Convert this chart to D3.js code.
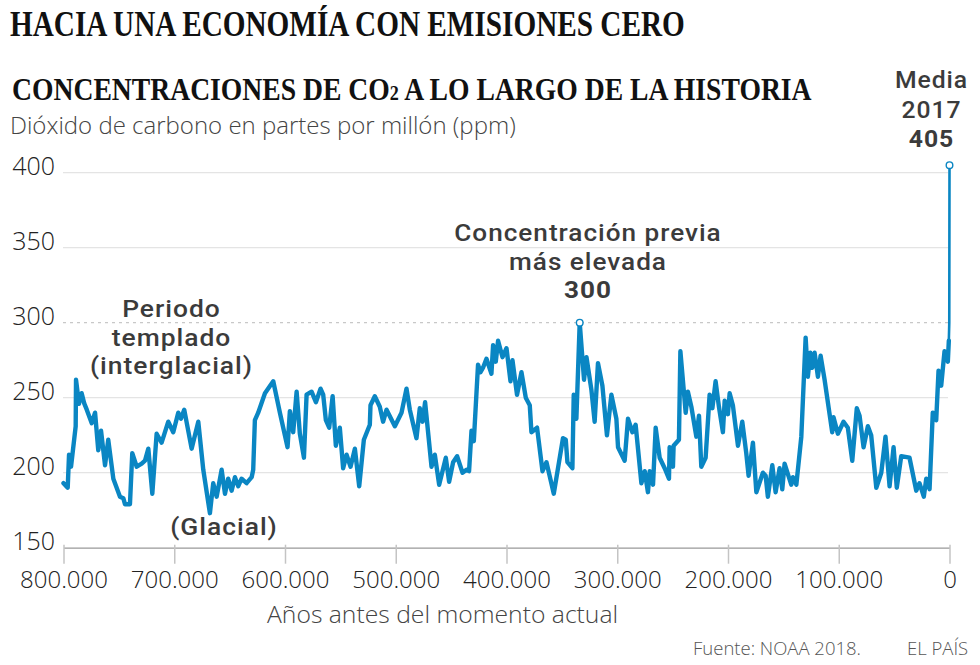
<!DOCTYPE html>
<html><head><meta charset="utf-8">
<script src="https://cdn.jsdelivr.net/npm/d3@7"></script>
<style>
html,body{margin:0;padding:0;background:#fff;}
svg{display:block;}
</style></head>
<body>
<svg id="chart" width="980" height="665"></svg>
<script>
// ---- DATA ----
const iceAgeKyr = [800, 796.2, 795, 793.2, 789, 788.7, 786, 783.6, 781.2, 779,
 774.5, 771.5, 768.6, 766.1, 762.5, 759.6, 755, 749, 746, 744.5,
 740, 737.9, 733.9, 729.4, 726.4, 723.4, 719.8, 715.9, 711.4, 705.4,
 700.9, 696.4, 694, 691, 684.3, 678.3, 673.8, 667.8, 664.8, 661.7,
 657.2, 654.2, 651.3, 648.2, 645.2, 642.2, 639.2, 634.7, 630.1, 628.7,
 627.2, 624.2, 618.1, 610.6, 604.6, 597.7, 595.6, 592.6, 589.5, 586.6,
 582.9, 580.5, 576, 572.1, 567.9, 565.5, 563.1, 560.1, 557, 554.1,
 550.5, 547.5, 544.4, 540.8, 536.9, 533, 528.8, 523.4, 522.8, 518.9,
 514.4, 511.4, 508.3, 500.8, 494.8, 490.3, 487.3, 481.3, 478.3, 475.8,
 473.5, 467.7, 464.7, 460.8, 454.8, 451.8, 448.2, 444.6, 439.7, 436.1,
 433.8, 431.6, 429.5, 425.7, 423.5, 421.2, 418.1, 413.6, 412.1, 409.7,
 407.6, 403.6, 400, 396.4, 394.6, 390.5, 386.5, 382.6, 379, 377.5,
 372.4, 367.5, 363.9, 357.3, 349, 346.5, 345, 340.5, 339.3, 336.9,
 333.9, 330, 327.8, 323.3, 320.4, 317.4, 313.4, 309.3, 305.3, 300.8,
 299.3, 293.3, 290.3, 286.3, 283.4, 278.2, 275.2, 272.3, 270.7, 267.7,
 265.3, 261.7, 257.2, 253.3, 252.7, 249.7, 249.1, 244.3, 243, 238.2,
 236.2, 233.1, 228.6, 226.2, 224.1, 220.2, 216.6, 214.1, 211.2, 208.2,
 204.6, 203, 200.1, 198.5, 195.6, 191, 187.1, 183.5, 181.4, 177.5,
 174.4, 168.5, 166, 164, 160, 157, 153.4, 151, 148.9, 142.9,
 141.4, 138.3, 133.8, 129.9, 127.9, 125.7, 123.9, 121.8, 118.8, 116.4,
 112.8, 105.9, 104.7, 100.8, 95.7, 91.8, 87.8, 83.7, 81.2, 77.6,
 73.7, 70.7, 66.1, 61.6, 57.8, 54.1, 50.5, 47.6, 43.6, 36.1,
 30, 27.1, 23.2, 21, 18, 15.1, 12, 9.9, 7.5, 4.5,
 1.5, 0.6];
const iceCO2 = [193,190,212,204,231,262,246,253,246,242,
 233,240,215,228,205,222,196,184,183,179,
 179,213,204,206,208,216,186,226,220,234,
 227,240,236,242,216,234,202,173,193,184,
 202,186,196,188,197,191,196,193,197,202,
 235,240,253,261,240,217,241,227,254,226,
 210,252,254,247,256,252,235,230,251,218,
 230,203,212,204,216,191,222,232,245,251,
 244,234,242,231,240,256,242,223,243,234,
 247,204,212,192,210,194,207,211,200,202,
 201,228,221,272,267,270,276,266,285,274,
 288,277,283,261,275,252,267,250,245,227,
 230,201,207,186,223,222,207,203,252,236,
 300,262,277,255,234,273,258,225,252,236,
 217,208,236,227,232,193,201,187,201,192,
 230,210,203,196,217,204,218,222,281,240,
 254,244,224,238,204,210,252,243,261,244,
 227,248,239,253,245,218,234,213,198,220,
 187,200,198,184,205,187,203,189,206,192,
 197,192,224,290,264,280,270,280,264,278,
 262,227,237,226,234,230,208,243,238,217,
 231,225,190,200,224,191,217,190,211,210,
 188,193,184,196,189,240,235,268,258,281,
 274,288];
const modernAgeKyr = [0.6, 0.2, 0];
const modernCO2 = [288, 300, 405];
const peakPrev = {ageKyr: 333.9, co2: 300};
const peakNow = {ageKyr: 0, co2: 405};
const yTicks = [150, 200, 250, 300, 350, 400];
const xTicks = [800000, 700000, 600000, 500000, 400000, 300000, 200000, 100000, 0];

// ---- SETUP ----
const svg = d3.select('#chart');
const BLUE = '#0a86c3';
const sansLight = "'Open Sans', 'Noto Sans', sans-serif";
const annFont = "Roboto, 'Open Sans', sans-serif";
const serif = "'Liberation Serif', 'DejaVu Serif', serif";
const locale = d3.formatLocale({decimal: ',', thousands: '.', grouping: [3], currency: ['', '€']});
const fmt = locale.format(',d');

const x = d3.scaleLinear().domain([800000, 0]).range([63.5, 949.5]);
const y = d3.scaleLinear().domain([150, 400]).range([547.7, 172.7]);

// Titles (horizontally condensed serif)
function condensed(str, x0, y0, size, width, build) {
  const t = svg.append('text').attr('x', 0).attr('y', 0)
    .attr('font-family', serif).attr('font-weight', 700)
    .attr('font-size', size).attr('fill', '#111');
  if (build) build(t); else t.text(str);
  const w = t.node().getComputedTextLength();
  t.attr('transform', `translate(${x0},${y0}) scale(${width / w},1)`);
  return t;
}
condensed('HACIA UNA ECONOMÍA CON EMISIONES CERO', 10, 36, 36, 675);
condensed(null, 12, 100, 32, 800, t => {
  t.append('tspan').text('CONCENTRACIONES DE CO');
  t.append('tspan').attr('font-size', 21).text('2');
  t.append('tspan').text(' A LO LARGO DE LA HISTORIA');
});
svg.append('text').attr('x', 10).attr('y', 134)
  .attr('font-family', sansLight).attr('font-weight', 300).attr('font-size', 24).attr('fill', '#444')
  .text('Dióxido de carbono en partes por millón (ppm)');

// Grid
const grid = svg.append('g');
grid.selectAll('line').data(yTicks.filter(d => d > 150)).join('line')
  .attr('x1', 63).attr('x2', 948)
  .attr('y1', d => y(d)).attr('y2', d => y(d))
  .attr('stroke', d => d === 300 ? '#c8c8c8' : '#e4e4e4')
  .attr('stroke-width', 1.2)
  .attr('stroke-dasharray', d => d === 300 ? '3,4' : null);

// Y labels
svg.append('g').selectAll('text').data(yTicks).join('text')
  .attr('x', 55).attr('y', d => y(d) + 2)
  .attr('text-anchor', 'end')
  .attr('font-family', sansLight).attr('font-weight', 300).attr('font-size', 25).attr('fill', '#222')
  .text(d => d);

// X axis
const xAxis = svg.append('g').attr('transform', `translate(0,${y(150)})`)
  .call(d3.axisBottom(x).tickValues(xTicks).tickFormat(fmt).tickSize(16).tickSizeOuter(0));
xAxis.select('.domain').attr('stroke', '#999').attr('stroke-width', 1.2);
xAxis.selectAll('.tick line').attr('stroke', '#c4c4c4').attr('stroke-width', 1.5).attr('y1', -3);
xAxis.selectAll('.tick text')
  .attr('y', 40).attr('dy', 0)
  .attr('font-family', sansLight).attr('font-weight', 300).attr('font-size', 24).attr('fill', '#222');

svg.append('text').attr('x', 267).attr('y', 623)
  .attr('font-family', sansLight).attr('font-weight', 300).attr('font-size', 24.7).attr('fill', '#444')
  .text('Años antes del momento actual');

// Lines
const iceData = iceAgeKyr.map((a, i) => ({age: a * 1000, v: iceCO2[i]}));
const modernData = modernAgeKyr.map((a, i) => ({age: a * 1000, v: modernCO2[i]}));
const line = d3.line().x(d => x(d.age)).y(d => y(d.v));
svg.append('path').datum(modernData).attr('d', line)
  .attr('fill', 'none').attr('stroke', BLUE).attr('stroke-width', 2.6).attr('stroke-linejoin', 'round');
svg.append('path').datum(iceData).attr('d', line)
  .attr('fill', 'none').attr('stroke', BLUE).attr('stroke-width', 4.4)
  .attr('stroke-linejoin', 'round').attr('stroke-linecap', 'round');

svg.append('g').selectAll('circle').data([peakPrev, peakNow]).join('circle')
  .attr('cx', d => x(d.ageKyr * 1000)).attr('cy', d => y(d.co2)).attr('r', 3.3)
  .attr('fill', '#fff').attr('stroke', BLUE).attr('stroke-width', 1.4);

// Annotations (slightly widened Roboto)
const ann = svg.append('g').attr('font-family', annFont).attr('font-size', 24)
  .attr('letter-spacing', 0.9)
  .attr('fill', '#3b3b3b').attr('text-anchor', 'middle').attr('font-weight', 500);
function block(cx, y0, lines, gap, sx) {
  lines.forEach((l, i) => ann.append('text').attr('x', 0).attr('y', 0)
    .attr('transform', `translate(${cx},${y0 + i * gap}) scale(${sx},1)`)
    .attr('font-weight', l[1] || 500).text(l[0]));
}
block(171.5, 317, [['Periodo'], ['templado'], ['(interglacial)']], 28.5, 1.1);
block(224, 535, [['(Glacial)']], 28.5, 1.1);
block(588, 241, [['Concentración previa'], ['más elevada'], ['300', 700]], 28.6, 1.09);
block(931.5, 88, [['Media'], ['2017'], ['405', 700]], 29.5, 1.03);

// Footer
svg.append('text').attr('x', 693).attr('y', 655)
  .attr('font-family', sansLight).attr('font-weight', 300).attr('font-size', 18.5).attr('fill', '#555')
  .text('Fuente: NOAA 2018.');
svg.append('text').attr('x', 907).attr('y', 655)
  .attr('font-family', sansLight).attr('font-weight', 300).attr('font-size', 18.5).attr('fill', '#555')
  .text('EL PAÍS');
</script>
</body></html>
